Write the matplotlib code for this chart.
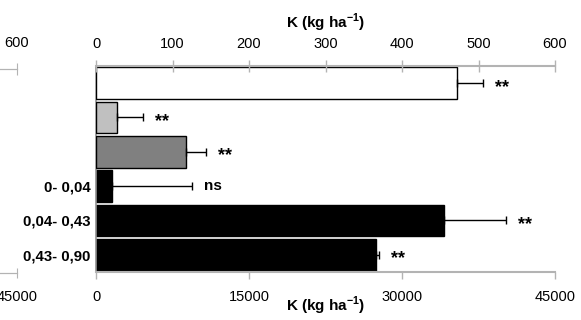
import matplotlib
matplotlib.use("Agg")
import matplotlib.pyplot as plt
import numpy as np

plt.rcParams['font.family'] = ['Liberation Sans', 'DejaVu Sans']
plt.rcParams['mathtext.fontset'] = 'custom'
plt.rcParams['mathtext.rm'] = 'Liberation Sans'
plt.rcParams['mathtext.bf'] = 'Liberation Sans:bold'

# top group (upper axis, 0-600 kg/ha), listed top to bottom
top_vals = [472, 28, 117]
top_err = [34, 34, 27]
top_colors = ['white', '#c0c0c0', '#808080']
top_sig = ['**', '**', '**']

# bottom group (lower axis, 0-45000 kg/ha), listed top to bottom
bot_labels = ['0- 0,04', '0,04- 0,43', '0,43- 0,90']
bot_vals = [1570, 34100, 27450]
bot_err = [7840, 6100, 330]
bot_sig = ['ns', '**', '**']

top_ticks = [0, 100, 200, 300, 400, 500, 600]
bot_ticks = [0, 15000, 30000, 45000]

grey = '#b3b3b3'
ekw = dict(ecolor='black', capsize=2.8, elinewidth=1, capthick=1)
xlab = r'K (kg ha$^{\mathbf{-1}}$)'

fig = plt.figure(figsize=(5.81, 3.2), dpi=100)
ax = fig.add_axes([96/581, 48/320, 459/581, 206/320])
ax2 = ax.twiny()

pos_top = [5, 4, 3]
pos_bot = [2, 1, 0]

ax.barh(pos_bot, bot_vals, height=0.93, color='black', edgecolor='black', linewidth=1,
        xerr=[np.zeros(3), bot_err], error_kw=ekw)
ax2.barh(pos_top, top_vals, height=0.93, color=top_colors, edgecolor='black', linewidth=1,
         xerr=[np.zeros(3), top_err], error_kw=ekw)

for v, e, p, s in zip(bot_vals, bot_err, pos_bot, bot_sig):
    dy = -3 if s == '**' else 0
    fs = 13 if s == '**' else 11
    ax.annotate(s, xy=(v + e, p), xytext=(8.5, dy), textcoords='offset points',
                va='center', ha='left', fontsize=fs, fontweight='bold')
for v, e, p, s in zip(top_vals, top_err, pos_top, top_sig):
    ax2.annotate(s, xy=(v + e, p), xytext=(8.5, -3), textcoords='offset points',
                 va='center', ha='left', fontsize=13, fontweight='bold')

ax.set_ylim(-0.5, 5.5)
ax.set_xlim(0, 45000)
ax2.set_xlim(0, 600)

ax.set_xticks(bot_ticks)
ax.set_xticklabels([str(t) for t in bot_ticks], fontsize=10.5)
ax2.set_xticks(top_ticks)
ax2.set_xticklabels([str(t) for t in top_ticks], fontsize=10.5)
ax.set_yticks(pos_bot)
ax.set_yticklabels(bot_labels, fontsize=10.8, fontweight='bold')

ax.tick_params(axis='y', length=0, pad=4)
ax.tick_params(axis='x', direction='out', length=5, width=1, color=grey, pad=8)
ax2.tick_params(axis='x', direction='inout', length=8, width=1, color=grey, pad=7)

for s in ['top', 'right']:
    ax.spines[s].set_visible(False)
for s in ['bottom', 'left', 'right']:
    ax2.spines[s].set_visible(False)
ax.spines['bottom'].set_color(grey)
ax.spines['bottom'].set_linewidth(1.5)
ax.spines['left'].set_color('#909090')
ax.spines['left'].set_linewidth(1.2)
ax2.spines['top'].set_color(grey)
ax2.spines['top'].set_linewidth(1.5)

ax.set_xlabel(xlab, fontsize=11, fontweight='bold', labelpad=-7)
ax2.set_xlabel(xlab, fontsize=11, fontweight='bold', labelpad=6)

# fragment of the neighbouring panel on the left
frag = fig.add_axes([-0.2, 47/320, 0.2 + 17/581, 204/320])
frag.set_xlim(0, 45000)
frag.set_ylim(0, 1)
frag.set_yticks([])
frag.set_xticks([45000])
frag.set_xticklabels(['45000'], fontsize=10.5)
frag.tick_params(axis='x', direction='inout', length=7, color=grey, pad=9)
fragt = frag.twiny()
fragt.set_xlim(0, 600)
fragt.set_xticks([600])
fragt.set_xticklabels(['600'], fontsize=10.5)
fragt.tick_params(axis='x', direction='inout', length=8, color=grey, pad=10)
for a in (frag, fragt):
    for s in ['left', 'right']:
        a.spines[s].set_visible(False)
    a.spines['top'].set_color(grey)
    a.spines['bottom'].set_color(grey)
    a.patch.set_visible(False)

fig.savefig('out.png', dpi=100)
